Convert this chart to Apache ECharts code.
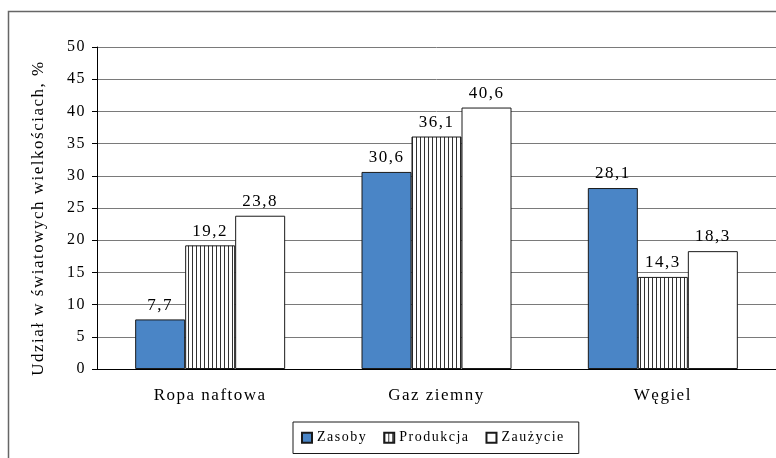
<!DOCTYPE html>
<html>
<head>
<meta charset="utf-8">
<script src="https://cdn.jsdelivr.net/npm/echarts@6/dist/echarts.min.js"></script>
<style>
html,body{margin:0;padding:0;background:#fff;}
#chart{width:776px;height:458px;}
</style>
</head>
<body>
<div id="chart"></div>
<script>
const categories = ['Ropa naftowa', 'Gaz ziemny', 'Węgiel'];
const seriesNames = ['Zasoby', 'Produkcja', 'Zaużycie'];
const zasoby = [7.7, 30.6, 28.1];
const produkcja = [19.2, 36.1, 14.3];
const zauzycie = [23.8, 40.6, 18.3];
const yTicks = [0, 5, 10, 15, 20, 25, 30, 35, 40, 45, 50];

const FONT = '"Liberation Serif", "Times New Roman", serif';

// the reference text is set with slightly widened letter spacing
(function () {
  const LS = '1.5px';
  const proto = CanvasRenderingContext2D.prototype;
  if (!('letterSpacing' in proto)) return;
  ['fillText', 'strokeText', 'measureText'].forEach(function (fn) {
    const orig = proto[fn];
    proto[fn] = function () {
      const prev = this.letterSpacing;
      this.letterSpacing = LS;
      const r = orig.apply(this, arguments);
      this.letterSpacing = prev;
      return r;
    };
  });
})();

// vertical-line hatch pattern
const pat = document.createElement('canvas');
pat.width = 4; pat.height = 4;
const pc = pat.getContext('2d');
pc.fillStyle = '#ffffff';
pc.fillRect(0, 0, 4, 4);
pc.fillStyle = '#333333';
pc.fillRect(0, 0, 1, 4);

const chart = echarts.init(document.getElementById('chart'), null, {renderer: 'canvas'});

const fmt = p => String(p.value).replace('.', ',');
const label = {
  show: true, position: 'top', distance: 5,
  fontFamily: FONT, fontSize: 17, color: '#000',
  formatter: fmt
};
const border = {borderColor: '#1a1a1a', borderWidth: 1};

chart.setOption({
  animation: false,
  backgroundColor: '#fff',
  textStyle: {fontFamily: FONT},
  graphic: [{
    type: 'rect', silent: true,
    shape: {x: 8.5, y: 11.5, width: 800, height: 500},
    style: {fill: 'none', stroke: '#666', lineWidth: 1.5},
    z: -1
  }],
  grid: {left: 97, top: 47, width: 681, height: 322},
  legend: {
    left: 293, top: 422,
    padding: [8, 14, 8, 8],
    borderColor: '#1a1a1a', borderWidth: 1,
    itemWidth: 10, itemHeight: 10, itemGap: 16,
    textStyle: {fontFamily: FONT, fontSize: 14, color: '#000'},
    data: seriesNames.map(n => ({name: n, icon: 'rect'}))
  },
  xAxis: {
    type: 'category', data: categories,
    axisLine: {lineStyle: {color: '#000', width: 1}},
    axisTick: {show: false},
    axisLabel: {fontFamily: FONT, fontSize: 17, color: '#000', margin: 17}
  },
  yAxis: {
    type: 'value', min: yTicks[0], max: yTicks[yTicks.length - 1], interval: 5,
    name: 'Udział w światowych wielkościach, %',
    nameLocation: 'middle', nameGap: 49,
    nameTextStyle: {fontFamily: FONT, fontSize: 17, color: '#000', padding: [0, 20, 0, 0]},
    axisLine: {show: true, lineStyle: {color: '#000', width: 1}},
    axisTick: {show: true, length: 5, lineStyle: {color: '#000'}},
    axisLabel: {fontFamily: FONT, fontSize: 16, color: '#000', margin: 11},
    splitLine: {lineStyle: {color: '#7a7a7a', width: 1}}
  },
  series: [
    {name: seriesNames[0], type: 'bar', data: zasoby, barWidth: 50, barGap: '0%',
     itemStyle: Object.assign({color: '#4A85C6'}, border), label},
    {name: seriesNames[1], type: 'bar', data: produkcja, barWidth: 50, barGap: '0%',
     itemStyle: Object.assign({color: {image: pat, repeat: 'repeat'}}, border), label},
    {name: seriesNames[2], type: 'bar', data: zauzycie, barWidth: 50, barGap: '0%',
     itemStyle: Object.assign({color: '#ffffff'}, border), label}
  ]
});
</script>
</body>
</html>
